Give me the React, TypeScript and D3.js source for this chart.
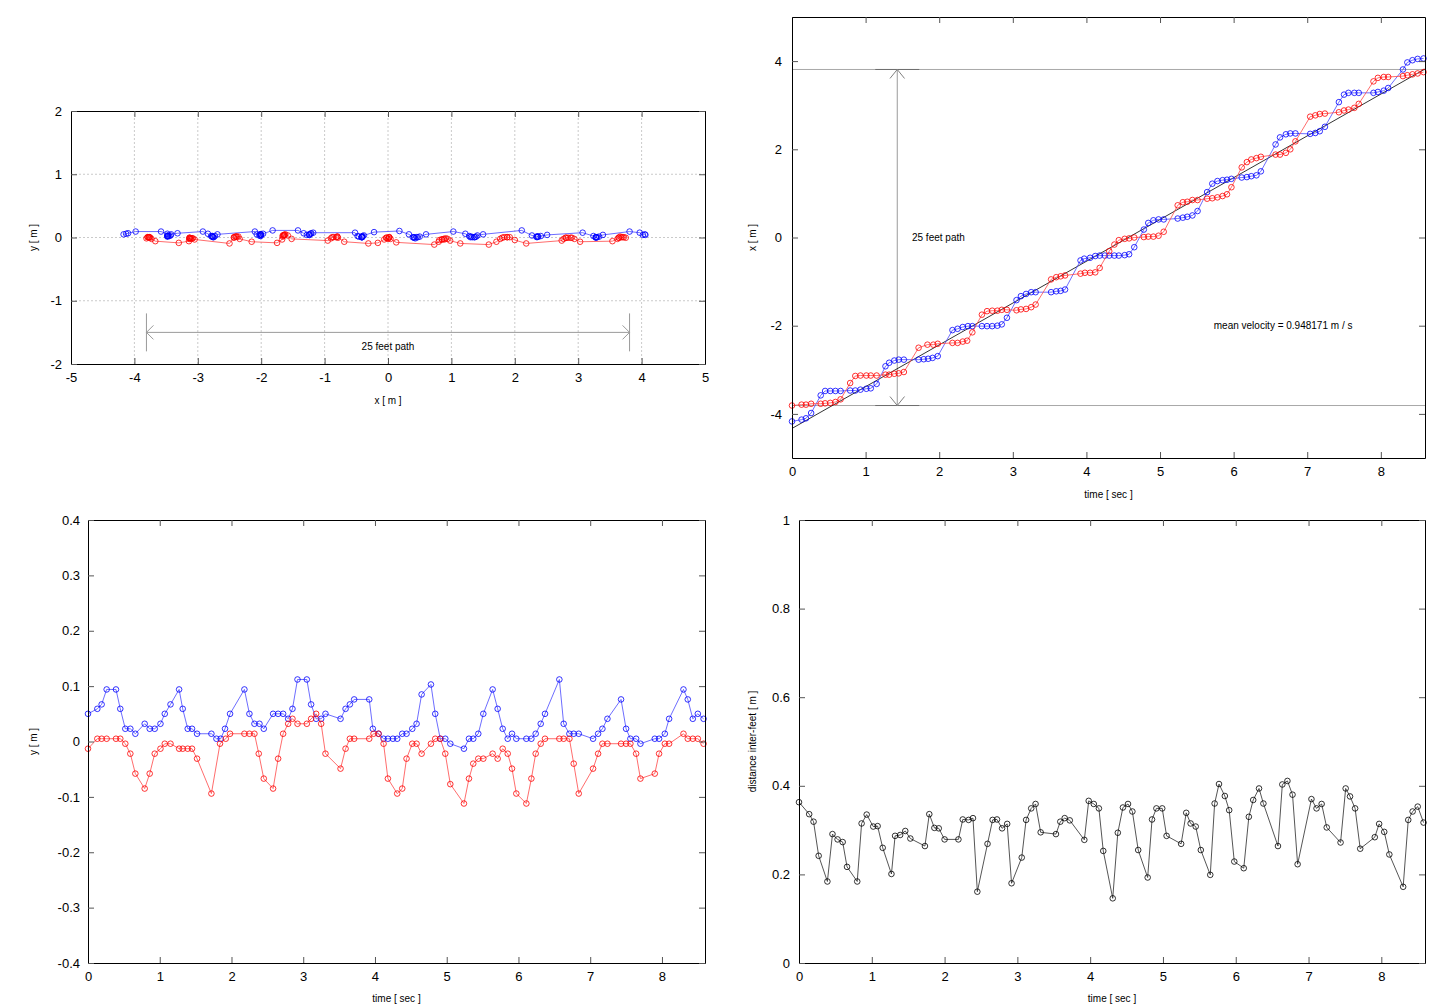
import { useEffect, useRef } from "react";
import * as d3 from "d3";

type Sample = [number, number, number];
type Pt = [number, number];

// blue foot: [time (s), x (m), y (m)]
const blueFoot: Sample[] = [
  [0.0, -4.17, 0.05], [0.13, -4.13, 0.059], [0.19, -4.1, 0.067], [0.26, -3.98, 0.094],
  [0.39, -3.58, 0.094], [0.45, -3.48, 0.059], [0.52, -3.48, 0.023], [0.59, -3.48, 0.023],
  [0.66, -3.48, 0.014], [0.79, -3.47, 0.032], [0.86, -3.47, 0.023], [0.93, -3.45, 0.023],
  [1.01, -3.43, 0.032], [1.07, -3.42, 0.05], [1.15, -3.32, 0.067], [1.27, -2.92, 0.094],
  [1.32, -2.84, 0.059], [1.39, -2.79, 0.023], [1.45, -2.77, 0.023], [1.52, -2.77, 0.014],
  [1.72, -2.77, 0.014], [1.79, -2.76, 0.005], [1.85, -2.75, 0.005], [1.91, -2.73, 0.023],
  [1.98, -2.69, 0.05], [2.18, -2.1, 0.094], [2.25, -2.07, 0.05], [2.32, -2.03, 0.032],
  [2.39, -2.01, 0.032], [2.45, -2.01, 0.023], [2.58, -2.01, 0.05], [2.65, -2.01, 0.05],
  [2.72, -2.01, 0.05], [2.79, -2.0, 0.041], [2.85, -1.97, 0.059], [2.92, -1.82, 0.112],
  [3.05, -1.42, 0.112], [3.11, -1.33, 0.067], [3.18, -1.28, 0.041], [3.25, -1.24, 0.041],
  [3.31, -1.24, 0.05], [3.52, -1.24, 0.041], [3.59, -1.22, 0.059], [3.65, -1.21, 0.067],
  [3.71, -1.18, 0.076], [3.92, -0.52, 0.076], [3.97, -0.48, 0.023], [4.05, -0.46, 0.014],
  [4.12, -0.42, 0.005], [4.18, -0.41, 0.005], [4.25, -0.41, 0.005], [4.31, -0.41, 0.005],
  [4.38, -0.41, 0.014], [4.44, -0.41, 0.014], [4.52, -0.4, 0.023], [4.58, -0.38, 0.032],
  [4.65, -0.22, 0.085], [4.78, 0.18, 0.103], [4.84, 0.33, 0.05], [4.91, 0.39, 0.005],
  [4.98, 0.41, 0.005], [5.05, 0.41, -0.004], [5.24, 0.43, -0.013], [5.31, 0.45, 0.005],
  [5.37, 0.47, 0.005], [5.44, 0.5, 0.014], [5.51, 0.6, 0.05], [5.64, 1.03, 0.094],
  [5.71, 1.22, 0.059], [5.78, 1.28, 0.023], [5.85, 1.3, 0.005], [5.91, 1.31, 0.014],
  [5.97, 1.33, 0.005], [6.11, 1.36, 0.005], [6.18, 1.37, 0.005], [6.24, 1.39, 0.014],
  [6.31, 1.41, 0.032], [6.37, 1.5, 0.05], [6.57, 2.11, 0.112], [6.63, 2.27, 0.032],
  [6.71, 2.34, 0.014], [6.77, 2.36, 0.014], [6.84, 2.36, 0.014], [7.04, 2.35, 0.005],
  [7.11, 2.37, 0.014], [7.17, 2.41, 0.023], [7.24, 2.51, 0.041], [7.43, 3.07, 0.076],
  [7.5, 3.24, 0.023], [7.56, 3.28, 0.005], [7.64, 3.28, 0.005], [7.7, 3.28, -0.004],
  [7.9, 3.28, 0.005], [7.96, 3.3, 0.005], [8.04, 3.33, 0.014], [8.1, 3.39, 0.041],
  [8.3, 3.81, 0.094], [8.36, 3.97, 0.076], [8.43, 4.02, 0.041], [8.5, 4.05, 0.05],
  [8.58, 4.06, 0.041],
];

// red foot: [time (s), x (m), y (m)]
const redFoot: Sample[] = [
  [0.0, -3.81, -0.013], [0.13, -3.79, 0.005], [0.19, -3.79, 0.005], [0.26, -3.77, 0.005],
  [0.39, -3.77, 0.005], [0.45, -3.76, 0.005], [0.52, -3.75, -0.004], [0.59, -3.73, -0.022],
  [0.66, -3.67, -0.058], [0.79, -3.3, -0.085], [0.86, -3.14, -0.058], [0.93, -3.13, -0.022],
  [1.01, -3.13, -0.013], [1.07, -3.13, -0.004], [1.15, -3.13, -0.004], [1.27, -3.11, -0.013],
  [1.32, -3.11, -0.013], [1.39, -3.09, -0.013], [1.45, -3.08, -0.013], [1.52, -3.05, -0.031],
  [1.72, -2.5, -0.094], [1.84, -2.43, -0.004], [1.92, -2.43, 0.005], [1.98, -2.41, 0.014],
  [2.18, -2.39, 0.014], [2.25, -2.39, 0.014], [2.32, -2.36, 0.014], [2.38, -2.34, -0.022],
  [2.45, -2.15, -0.067], [2.58, -1.75, -0.085], [2.65, -1.67, -0.031], [2.72, -1.66, 0.014],
  [2.79, -1.66, 0.032], [2.85, -1.64, 0.041], [2.92, -1.64, 0.032], [3.05, -1.65, 0.032],
  [3.11, -1.63, 0.041], [3.18, -1.62, 0.05], [3.25, -1.58, 0.032], [3.31, -1.52, -0.022],
  [3.52, -0.95, -0.049], [3.59, -0.9, -0.013], [3.65, -0.88, 0.005], [3.71, -0.86, 0.005],
  [3.92, -0.82, 0.005], [3.98, -0.8, 0.014], [4.05, -0.8, 0.014], [4.12, -0.79, -0.004],
  [4.18, -0.69, -0.067], [4.31, -0.31, -0.094], [4.38, -0.16, -0.085], [4.44, -0.06, -0.031],
  [4.52, -0.03, -0.004], [4.58, -0.02, -0.004], [4.65, 0.0, -0.022], [4.78, 0.01, -0.004],
  [4.84, 0.02, 0.005], [4.91, 0.02, 0.005], [4.98, 0.04, -0.022], [5.05, 0.13, -0.077],
  [5.24, 0.73, -0.112], [5.31, 0.8, -0.067], [5.37, 0.81, -0.04], [5.44, 0.85, -0.031],
  [5.51, 0.85, -0.031], [5.64, 0.88, -0.022], [5.71, 0.89, -0.031], [5.78, 0.91, -0.013],
  [5.85, 0.94, -0.022], [5.91, 0.98, -0.049], [5.97, 1.14, -0.094], [6.11, 1.59, -0.112],
  [6.18, 1.71, -0.067], [6.24, 1.77, -0.022], [6.31, 1.8, -0.004], [6.37, 1.83, 0.005],
  [6.57, 1.88, 0.005], [6.63, 1.88, 0.005], [6.71, 1.92, 0.005], [6.77, 2.0, -0.04],
  [6.84, 2.18, -0.094], [7.04, 2.74, -0.049], [7.11, 2.77, -0.022], [7.17, 2.8, -0.004],
  [7.24, 2.81, -0.004], [7.43, 2.84, -0.004], [7.5, 2.88, -0.004], [7.56, 2.9, -0.004],
  [7.64, 2.94, -0.022], [7.7, 3.03, -0.067], [7.9, 3.54, -0.058], [7.96, 3.62, -0.022],
  [8.04, 3.64, -0.004], [8.1, 3.64, -0.004], [8.3, 3.66, 0.014], [8.36, 3.68, 0.005],
  [8.43, 3.7, 0.005], [8.5, 3.72, 0.005], [8.58, 3.75, -0.004],
];

// distance between the feet: [time (s), distance (m)]
const interFeet: Pt[] = [
  [0.0, 0.363], [0.14, 0.336], [0.2, 0.319], [0.27, 0.242], [0.39, 0.184], [0.46, 0.291],
  [0.53, 0.279], [0.6, 0.273], [0.66, 0.217], [0.8, 0.184], [0.86, 0.315], [0.93, 0.335],
  [1.02, 0.308], [1.08, 0.309], [1.15, 0.26], [1.27, 0.201], [1.32, 0.287], [1.39, 0.289],
  [1.46, 0.298], [1.53, 0.281], [1.73, 0.264], [1.79, 0.336], [1.86, 0.305], [1.92, 0.304],
  [2.0, 0.279], [2.19, 0.279], [2.25, 0.324], [2.33, 0.323], [2.39, 0.327], [2.45, 0.161],
  [2.59, 0.269], [2.66, 0.323], [2.72, 0.324], [2.79, 0.304], [2.86, 0.314], [2.92, 0.18],
  [3.06, 0.238], [3.12, 0.323], [3.19, 0.349], [3.25, 0.359], [3.32, 0.295], [3.53, 0.291],
  [3.59, 0.319], [3.65, 0.327], [3.72, 0.322], [3.92, 0.278], [3.98, 0.366], [4.05, 0.359],
  [4.12, 0.349], [4.18, 0.253], [4.31, 0.146], [4.38, 0.294], [4.45, 0.351], [4.52, 0.359],
  [4.58, 0.342], [4.66, 0.255], [4.79, 0.193], [4.85, 0.324], [4.91, 0.349], [4.99, 0.349],
  [5.05, 0.287], [5.25, 0.269], [5.32, 0.339], [5.38, 0.315], [5.45, 0.308], [5.52, 0.255],
  [5.65, 0.199], [5.71, 0.36], [5.77, 0.404], [5.85, 0.377], [5.91, 0.345], [5.98, 0.229],
  [6.11, 0.214], [6.18, 0.33], [6.24, 0.368], [6.32, 0.394], [6.38, 0.36], [6.58, 0.264],
  [6.64, 0.403], [6.71, 0.411], [6.78, 0.38], [6.85, 0.223], [7.04, 0.37], [7.11, 0.349],
  [7.18, 0.359], [7.25, 0.306], [7.44, 0.272], [7.51, 0.394], [7.57, 0.376], [7.64, 0.349],
  [7.71, 0.258], [7.91, 0.284], [7.97, 0.314], [8.04, 0.296], [8.11, 0.245], [8.3, 0.172],
  [8.37, 0.323], [8.43, 0.342], [8.5, 0.353], [8.58, 0.317],
];

// 25 feet = 7.62 m, marked from -3.81 to 3.81
const pathHalf = 3.81;
const meanVelocity = 0.948171;
const fitLine: Pt[] = [[0, -4.33], [8.6, 3.82]];

const tlXTicks = [-5, -4, -3, -2, -1, 0, 1, 2, 3, 4, 5];
const tlYTicks = [-2, -1, 0, 1, 2];
const timeTicks = [0, 1, 2, 3, 4, 5, 6, 7, 8];
const trYTicks = [-4, -2, 0, 2, 4];
const blYTicks = [-0.4, -0.3, -0.2, -0.1, 0, 0.1, 0.2, 0.3, 0.4];
const brYTicks = [0, 0.2, 0.4, 0.6, 0.8, 1];

const FONT = "'Liberation Sans', Arial, Helvetica, sans-serif";

type Sel = d3.Selection<SVGGElement, unknown, null, undefined>;
type Lin = d3.ScaleLinear<number, number>;

function drawAxes(g: Sel, x: Lin, y: Lin, xTicks: number[], yTicks: number[], padX: number, padY: number) {
  const [x0, x1] = x.range();
  const [y0, y1] = y.range();
  const fmt = (d: d3.NumberValue) => String(d);
  const none = () => "";
  const axes = [
    g.append("g").attr("transform", `translate(0,${y0})`)
      .call(d3.axisBottom(x).tickValues(xTicks).tickSizeInner(-6).tickSizeOuter(0).tickPadding(padX).tickFormat(fmt)),
    g.append("g").attr("transform", `translate(0,${y1})`)
      .call(d3.axisTop(x).tickValues(xTicks).tickSizeInner(-6).tickSizeOuter(0).tickFormat(none)),
    g.append("g").attr("transform", `translate(${x0},0)`)
      .call(d3.axisLeft(y).tickValues(yTicks).tickSizeInner(-6).tickSizeOuter(0).tickPadding(padY).tickFormat(fmt)),
    g.append("g").attr("transform", `translate(${x1},0)`)
      .call(d3.axisRight(y).tickValues(yTicks).tickSizeInner(-6).tickSizeOuter(0).tickFormat(none)),
  ];
  axes.forEach((a) => {
    a.select(".domain").attr("stroke", "#000").attr("stroke-width", 1);
    a.selectAll(".tick line").attr("stroke", "#555");
    a.selectAll("text").attr("font-family", FONT).attr("font-size", 13).attr("fill", "#000");
  });
}

function drawSeries(g: Sel, pts: Pt[], x: Lin, y: Lin, marker: string, lineColor: string) {
  g.append("path")
    .datum(pts)
    .attr("fill", "none")
    .attr("stroke", lineColor)
    .attr("stroke-width", 0.8)
    .attr("d", d3.line<Pt>().x((d) => x(d[0])).y((d) => y(d[1])));
  g.append("g")
    .selectAll("circle")
    .data(pts)
    .join("circle")
    .attr("cx", (d) => x(d[0]))
    .attr("cy", (d) => y(d[1]))
    .attr("r", 2.8)
    .attr("fill", "none")
    .attr("stroke", marker)
    .attr("stroke-width", 0.8);
}

function label(g: Sel, text: string, px: number, py: number, anchor = "middle", rotate = false) {
  const t = g.append("text")
    .attr("font-family", FONT)
    .attr("font-size", 10)
    .attr("fill", "#000")
    .attr("text-anchor", anchor)
    .text(text);
  if (rotate) t.attr("transform", `translate(${px},${py}) rotate(-90)`).attr("dy", "0.35em");
  else t.attr("x", px).attr("y", py).attr("dy", "0.35em");
}

// open "V" arrow head at tip, pointing along (dx, dy)
function head(g: Sel, tipX: number, tipY: number, dx: number, dy: number, len: number, half: number, color: string) {
  const bx = tipX - dx * len;
  const by = tipY - dy * len;
  g.append("path")
    .attr("d", `M${bx - dy * half},${by + dx * half}L${tipX},${tipY}L${bx + dy * half},${by - dx * half}`)
    .attr("fill", "none")
    .attr("stroke", color)
    .attr("stroke-width", 1);
}

export default function App() {
  const svgRef = useRef<SVGSVGElement>(null);

  useEffect(() => {
    if (!svgRef.current) return;
    const svg = d3.select(svgRef.current);
    svg.selectAll("*").remove();
    const root = svg.append("g") as unknown as Sel;

    const blueXY: Pt[] = blueFoot.map((d) => [d[1], d[2]]);
    const redXY: Pt[] = redFoot.map((d) => [d[1], d[2]]);
    const blueTX: Pt[] = blueFoot.map((d) => [d[0], d[1]]);
    const redTX: Pt[] = redFoot.map((d) => [d[0], d[1]]);
    const blueTY: Pt[] = blueFoot.map((d) => [d[0], d[2]]);
    const redTY: Pt[] = redFoot.map((d) => [d[0], d[2]]);

    // ---- top left: path in the plane
    const tlX = d3.scaleLinear().domain([-5, 5]).range([71, 705]);
    const tlY = d3.scaleLinear().domain([-2, 2]).range([364, 111]);
    const tl = root.append("g");
    tlXTicks.slice(1, -1).forEach((v) => {
      tl.append("line").attr("x1", tlX(v)).attr("x2", tlX(v)).attr("y1", tlY(-2)).attr("y2", tlY(2))
        .attr("stroke", "#bdbdbd").attr("stroke-width", 0.8).attr("stroke-dasharray", "2,2");
    });
    tlYTicks.slice(1, -1).forEach((v) => {
      tl.append("line").attr("x1", tlX(-5)).attr("x2", tlX(5)).attr("y1", tlY(v)).attr("y2", tlY(v))
        .attr("stroke", "#bdbdbd").attr("stroke-width", 0.8).attr("stroke-dasharray", "2,2");
    });
    const arrowGray = "#9a9a9a";
    tl.append("line").attr("x1", tlX(-pathHalf)).attr("x2", tlX(pathHalf)).attr("y1", tlY(-1.5)).attr("y2", tlY(-1.5))
      .attr("stroke", arrowGray);
    [-pathHalf, pathHalf].forEach((v) => {
      tl.append("line").attr("x1", tlX(v)).attr("x2", tlX(v)).attr("y1", tlY(-1.2)).attr("y2", tlY(-1.8))
        .attr("stroke", arrowGray);
    });
    head(tl, tlX(-pathHalf), tlY(-1.5), -1, 0, 7, 7, arrowGray);
    head(tl, tlX(pathHalf), tlY(-1.5), 1, 0, 7, 7, arrowGray);
    label(tl, "25 feet path", tlX(0), tlY(-1.72));
    drawSeries(tl, blueXY, tlX, tlY, "#0000ff", "#4848ff");
    drawSeries(tl, redXY, tlX, tlY, "#ff0000", "#ff4848");
    drawAxes(tl, tlX, tlY, tlXTicks, tlYTicks, 9, 9);
    label(tl, "x [ m ]", tlX(0), 400);
    label(tl, "y [ m ]", 33, tlY(0), "middle", true);

    // ---- top right: x against time
    const trX = d3.scaleLinear().domain([0, 8.6]).range([792, 1425]);
    const trY = d3.scaleLinear().domain([-5, 5]).range([458, 17]);
    const tr = root.append("g");
    [-pathHalf, pathHalf].forEach((v) => {
      tr.append("line").attr("x1", trX(0)).attr("x2", trX(8.6)).attr("y1", trY(v)).attr("y2", trY(v))
        .attr("stroke", "#a8a8a8");
      tr.append("line").attr("x1", trX(1.43) - 22).attr("x2", trX(1.43) + 22).attr("y1", trY(v)).attr("y2", trY(v))
        .attr("stroke", "#6e6e6e");
    });
    tr.append("line").attr("x1", trX(1.43)).attr("x2", trX(1.43)).attr("y1", trY(-pathHalf)).attr("y2", trY(pathHalf))
      .attr("stroke", arrowGray);
    head(tr, trX(1.43), trY(pathHalf), 0, -1, 9, 7.3, "#808080");
    head(tr, trX(1.43), trY(-pathHalf), 0, 1, 9, 7.3, "#808080");
    label(tr, "25 feet path", trX(1.63), trY(0), "start");
    label(tr, `mean velocity = ${meanVelocity} m / s`, trX(5.73), trY(-2.0), "start");
    tr.append("path")
      .datum(fitLine)
      .attr("fill", "none")
      .attr("stroke", "#000")
      .attr("stroke-width", 0.8)
      .attr("d", d3.line<Pt>().x((d) => trX(d[0])).y((d) => trY(d[1])));
    drawSeries(tr, blueTX, trX, trY, "#0000ff", "#4848ff");
    drawSeries(tr, redTX, trX, trY, "#ff0000", "#ff4848");
    drawAxes(tr, trX, trY, timeTicks, trYTicks, 9, 10);
    label(tr, "time [ sec ]", trX(4.3), 494);
    label(tr, "x [ m ]", 752, trY(0), "middle", true);

    // ---- bottom left: y against time
    const blX = d3.scaleLinear().domain([0, 8.6]).range([88, 705]);
    const blY = d3.scaleLinear().domain([-0.4, 0.4]).range([963, 520]);
    const bl = root.append("g");
    drawSeries(bl, blueTY, blX, blY, "#0000ff", "#4848ff");
    drawSeries(bl, redTY, blX, blY, "#ff0000", "#ff4848");
    drawAxes(bl, blX, blY, timeTicks, blYTicks, 9, 8);
    label(bl, "time [ sec ]", blX(4.3), 998);
    label(bl, "y [ m ]", 33, blY(0), "middle", true);

    // ---- bottom right: distance between feet
    const brX = d3.scaleLinear().domain([0, 8.6]).range([799, 1425]);
    const brY = d3.scaleLinear().domain([0, 1]).range([963, 520]);
    const br = root.append("g");
    drawSeries(br, interFeet, brX, brY, "#000000", "#2a2a2a");
    drawAxes(br, brX, brY, timeTicks, brYTicks, 9, 9);
    label(br, "time [ sec ]", brX(4.3), 998);
    label(br, "distance inter-feet [ m ]", 752, brY(0.5), "middle", true);
  }, []);

  return (
    <div style={{ position: "absolute", left: 0, top: 0, background: "#fff" }}>
      <svg ref={svgRef} width={1440} height={1008} style={{ display: "block" }}></svg>
    </div>
  );
}
